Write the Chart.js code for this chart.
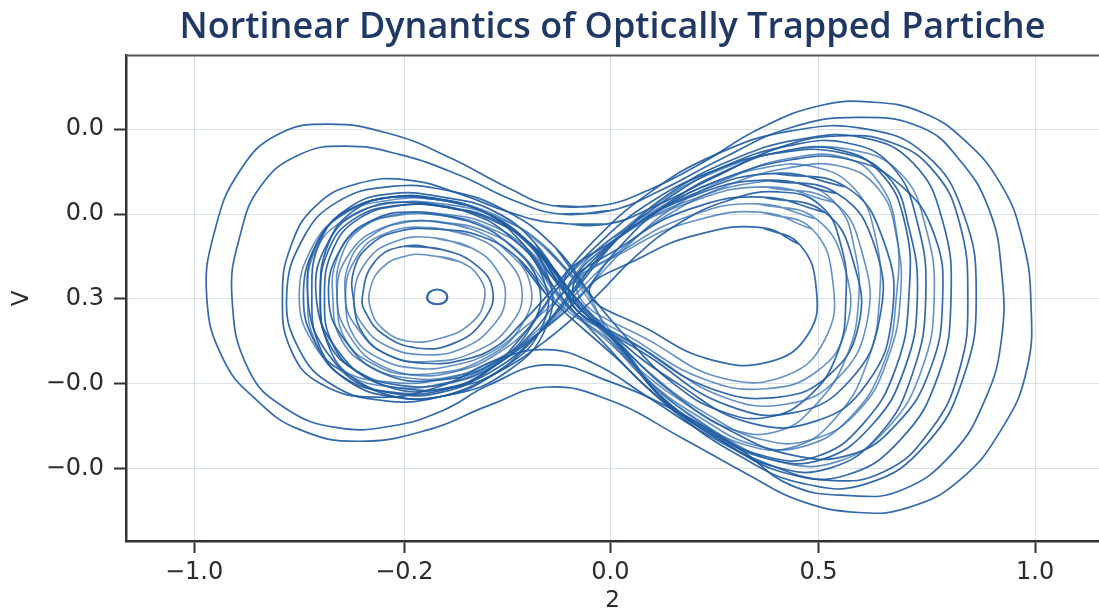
<!DOCTYPE html>
<html>
<head>
<meta charset="utf-8">
<title>Nonlinear dynamics of an optically trapped particle</title>
<script src="https://cdn.jsdelivr.net/npm/chart.js@4.4.1/dist/chart.umd.min.js"></script>
<style>
  html, body { margin: 0; padding: 0; background: #fff; }
  #wrap { width: 1099px; height: 613px; }
</style>
</head>
<body>
<div id="wrap"><canvas id="phase" width="1099" height="613"></canvas></div>
<script>
/* --- Labels as printed on the figure --- */
const chartTitle = 'Nortinear Dynantics of Optically Trapped Partiche';
const xAxisTitle = '2';
const yAxisTitle = 'V';
const xTickValues = [-1, -0.5, -0.01, 0.485, 1];
const xTickLabels = ['\u22121.0', '\u22120.2', '0.0', '0.5', '1.0'];
const yTickValues = [-1, -0.5, 0, 0.5, 1];
const yTickLabels = ['\u22120.0', '\u22120.0', '0.3', '0.0', '0.0'];

/* --- Trajectory pieces, [x, v] pairs --- */
// outer "peanut" orbits around both wells
const outerLoop1 = [[-0.15,0.55],[-0.03,0.55],[0.08,0.64],[0.20,0.79],[0.35,1.01],[0.49,1.14],[0.61,1.16],[0.73,1.10],[0.83,0.94],[0.92,0.67],[0.97,0.35],[0.99,-0.01],[0.98,-0.42],[0.92,-0.77],[0.82,-1.07],[0.70,-1.23],[0.58,-1.26],[0.44,-1.19],[0.32,-1.04],[0.16,-0.82],[-0.01,-0.60],[-0.16,-0.52],[-0.30,-0.63],[-0.44,-0.77],[-0.61,-0.84],[-0.75,-0.77],[-0.85,-0.60],[-0.93,-0.36],[-0.97,0.01],[-0.95,0.41],[-0.89,0.76],[-0.80,0.97],[-0.68,1.03],[-0.53,0.97],[-0.39,0.83],[-0.25,0.65],[-0.15,0.55]];
const outerLoop2 = [[-0.13,0.50],[-0.01,0.52],[0.11,0.64],[0.25,0.82],[0.42,1.01],[0.58,1.07],[0.73,1.01],[0.82,0.82],[0.89,0.53],[0.92,0.17],[0.92,-0.24],[0.88,-0.60],[0.80,-0.92],[0.68,-1.13],[0.56,-1.16],[0.42,-1.10],[0.30,-0.89],[0.16,-0.68],[-0.01,-0.49],[-0.16,-0.39],[-0.30,-0.51],[-0.41,-0.66],[-0.53,-0.75],[-0.66,-0.76],[-0.78,-0.65],[-0.87,-0.42],[-0.91,0.01],[-0.89,0.38],[-0.84,0.67],[-0.75,0.85],[-0.64,0.90],[-0.51,0.85],[-0.37,0.73],[-0.24,0.58],[-0.13,0.50]];
const outerLoop3 = [[-0.15,0.45],[-0.02,0.44],[0.10,0.55],[0.24,0.72],[0.39,0.89],[0.53,0.96],[0.66,0.92],[0.76,0.75],[0.82,0.45],[0.84,0.01],[0.82,-0.42],[0.75,-0.78],[0.64,-1.02],[0.51,-1.07],[0.37,-0.98],[0.22,-0.80],[0.08,-0.58],[-0.05,-0.38],[-0.16,-0.30],[-0.28,-0.36],[-0.42,-0.52],[-0.57,-0.58],[-0.70,-0.50],[-0.77,-0.30],[-0.79,0.01],[-0.77,0.31],[-0.71,0.55],[-0.61,0.68],[-0.49,0.70],[-0.37,0.62],[-0.25,0.51],[-0.15,0.45]];

// figure-eight orbits through the saddle
const eightLoop1 = [[-0.12,0.04],[-0.20,0.32],[-0.30,0.50],[-0.41,0.58],[-0.53,0.60],[-0.64,0.51],[-0.71,0.32],[-0.74,0.01],[-0.71,-0.27],[-0.64,-0.47],[-0.53,-0.55],[-0.41,-0.54],[-0.30,-0.42],[-0.20,-0.21],[-0.12,0.04],[-0.01,0.32],[0.11,0.53],[0.25,0.70],[0.42,0.82],[0.56,0.82],[0.68,0.67],[0.76,0.38],[0.78,-0.01],[0.75,-0.42],[0.67,-0.74],[0.56,-0.92],[0.42,-0.92],[0.27,-0.77],[0.13,-0.54],[0.00,-0.24],[-0.12,0.04]];
const eightLoop2 = [[-0.09,-0.01],[-0.18,0.28],[-0.28,0.45],[-0.40,0.54],[-0.52,0.55],[-0.62,0.47],[-0.68,0.29],[-0.70,0.00],[-0.68,-0.26],[-0.61,-0.43],[-0.51,-0.51],[-0.40,-0.50],[-0.29,-0.40],[-0.19,-0.22],[-0.09,-0.01],[0.01,0.30],[0.12,0.55],[0.26,0.75],[0.40,0.87],[0.53,0.88],[0.63,0.75],[0.69,0.45],[0.70,0.02],[0.67,-0.40],[0.59,-0.74],[0.48,-0.93],[0.36,-0.93],[0.23,-0.78],[0.10,-0.55],[0.01,-0.27],[-0.09,-0.01]];
const eightLoop3 = [[-0.13,0.08],[-0.21,0.30],[-0.30,0.44],[-0.41,0.50],[-0.51,0.50],[-0.60,0.42],[-0.65,0.25],[-0.66,0.01],[-0.64,-0.24],[-0.57,-0.39],[-0.48,-0.45],[-0.38,-0.43],[-0.29,-0.34],[-0.20,-0.16],[-0.13,0.08],[-0.03,0.31],[0.08,0.50],[0.21,0.66],[0.35,0.77],[0.47,0.78],[0.57,0.65],[0.62,0.37],[0.63,0.00],[0.60,-0.38],[0.53,-0.69],[0.43,-0.87],[0.31,-0.86],[0.19,-0.70],[0.07,-0.47],[-0.02,-0.22],[-0.13,0.08]];
const eightLoop4 = [[-0.11,0.02],[-0.19,0.33],[-0.29,0.52],[-0.41,0.60],[-0.53,0.62],[-0.63,0.54],[-0.70,0.34],[-0.72,0.02],[-0.70,-0.29],[-0.63,-0.49],[-0.52,-0.58],[-0.40,-0.57],[-0.29,-0.45],[-0.19,-0.23],[-0.11,0.02],[0.00,0.34],[0.12,0.58],[0.26,0.78],[0.41,0.90],[0.55,0.92],[0.66,0.78],[0.72,0.45],[0.74,0.01],[0.71,-0.43],[0.63,-0.80],[0.51,-1.00],[0.38,-0.99],[0.25,-0.83],[0.11,-0.58],[0.01,-0.28],[-0.11,0.02]];
const eightLoop5 = [[-0.14,-0.01],[-0.22,0.26],[-0.31,0.40],[-0.41,0.45],[-0.50,0.45],[-0.58,0.37],[-0.63,0.22],[-0.64,-0.01],[-0.62,-0.22],[-0.56,-0.35],[-0.47,-0.41],[-0.38,-0.39],[-0.29,-0.31],[-0.21,-0.16],[-0.14,-0.01],[-0.05,0.27],[0.06,0.45],[0.19,0.59],[0.32,0.68],[0.44,0.68],[0.53,0.55],[0.57,0.30],[0.58,-0.02],[0.55,-0.35],[0.48,-0.62],[0.39,-0.78],[0.28,-0.77],[0.17,-0.62],[0.06,-0.42],[-0.04,-0.20],[-0.14,-0.01]];
const eightLoop6 = [[-0.07,0.05],[-0.17,0.31],[-0.28,0.49],[-0.41,0.58],[-0.54,0.58],[-0.65,0.49],[-0.72,0.30],[-0.75,0.01],[-0.72,-0.25],[-0.65,-0.42],[-0.54,-0.49],[-0.42,-0.48],[-0.30,-0.38],[-0.17,-0.18],[-0.07,0.05],[0.03,0.31],[0.14,0.54],[0.28,0.72],[0.42,0.83],[0.55,0.83],[0.63,0.68],[0.67,0.40],[0.67,0.01],[0.64,-0.38],[0.56,-0.70],[0.45,-0.87],[0.33,-0.86],[0.21,-0.71],[0.08,-0.48],[-0.01,-0.22],[-0.07,0.05]];
const eightLoop7 = [[-0.10,0.03],[-0.19,0.30],[-0.29,0.47],[-0.40,0.54],[-0.51,0.55],[-0.61,0.47],[-0.67,0.29],[-0.69,0.01],[-0.67,-0.27],[-0.60,-0.45],[-0.50,-0.53],[-0.39,-0.52],[-0.28,-0.41],[-0.18,-0.20],[-0.10,0.03],[0.01,0.36],[0.13,0.62],[0.28,0.82],[0.44,0.94],[0.59,0.95],[0.71,0.80],[0.78,0.46],[0.80,0.00],[0.77,-0.45],[0.68,-0.83],[0.55,-1.04],[0.41,-1.03],[0.27,-0.86],[0.12,-0.60],[0.02,-0.29],[-0.10,0.03]];
const eightLoop8 = [[-0.16,0.02],[-0.23,0.24],[-0.32,0.37],[-0.42,0.41],[-0.51,0.40],[-0.58,0.32],[-0.62,0.17],[-0.62,-0.02],[-0.60,-0.20],[-0.54,-0.33],[-0.45,-0.38],[-0.36,-0.36],[-0.28,-0.28],[-0.22,-0.14],[-0.16,0.02],[-0.05,0.34],[0.08,0.62],[0.24,0.85],[0.42,0.99],[0.60,1.00],[0.74,0.85],[0.83,0.50],[0.86,0.02],[0.83,-0.46],[0.74,-0.86],[0.60,-1.09],[0.45,-1.09],[0.30,-0.93],[0.14,-0.66],[0.00,-0.34],[-0.16,0.02]];
const eightLoop9 = [[-0.05,0.00],[-0.14,0.30],[-0.26,0.52],[-0.40,0.64],[-0.54,0.66],[-0.66,0.57],[-0.74,0.36],[-0.78,0.02],[-0.75,-0.30],[-0.67,-0.51],[-0.55,-0.60],[-0.42,-0.58],[-0.29,-0.45],[-0.16,-0.24],[-0.05,0.00],[0.05,0.25],[0.15,0.44],[0.27,0.58],[0.39,0.63],[0.49,0.55],[0.54,0.30],[0.55,0.00],[0.53,-0.32],[0.46,-0.58],[0.36,-0.70],[0.25,-0.66],[0.14,-0.50],[0.04,-0.26],[-0.05,0.00]];
const eightLoop10 = [[-0.12,-0.03],[-0.20,0.26],[-0.30,0.42],[-0.41,0.49],[-0.52,0.49],[-0.61,0.41],[-0.66,0.24],[-0.67,0.00],[-0.65,-0.24],[-0.58,-0.40],[-0.48,-0.47],[-0.37,-0.45],[-0.27,-0.36],[-0.19,-0.20],[-0.12,-0.03],[-0.02,0.30],[0.10,0.56],[0.25,0.76],[0.41,0.87],[0.56,0.88],[0.68,0.74],[0.74,0.42],[0.76,0.00],[0.73,-0.42],[0.65,-0.76],[0.53,-0.96],[0.39,-0.96],[0.25,-0.80],[0.11,-0.55],[0.00,-0.27],[-0.12,-0.03]];
const eightLoop11 = [[-0.08,0.06],[-0.17,0.32],[-0.28,0.48],[-0.41,0.56],[-0.54,0.56],[-0.64,0.47],[-0.71,0.29],[-0.73,0.03],[-0.71,-0.26],[-0.64,-0.44],[-0.53,-0.52],[-0.41,-0.50],[-0.29,-0.39],[-0.17,-0.18],[-0.08,0.06],[0.02,0.30],[0.13,0.50],[0.27,0.67],[0.41,0.77],[0.54,0.78],[0.63,0.64],[0.67,0.37],[0.68,0.02],[0.65,-0.35],[0.58,-0.66],[0.47,-0.83],[0.35,-0.83],[0.22,-0.68],[0.09,-0.45],[-0.01,-0.19],[-0.08,0.06]];
const eightLoop12 = [[-0.14,0.05],[-0.22,0.33],[-0.31,0.51],[-0.42,0.59],[-0.53,0.60],[-0.62,0.52],[-0.68,0.33],[-0.70,0.02],[-0.68,-0.28],[-0.62,-0.47],[-0.52,-0.56],[-0.41,-0.55],[-0.31,-0.44],[-0.22,-0.22],[-0.14,0.05],[-0.04,0.32],[0.08,0.56],[0.23,0.75],[0.39,0.86],[0.54,0.86],[0.65,0.72],[0.70,0.42],[0.72,0.01],[0.69,-0.41],[0.61,-0.75],[0.49,-0.95],[0.36,-0.94],[0.23,-0.79],[0.09,-0.55],[-0.03,-0.25],[-0.14,0.05]];

// rings trapped in the left well
const leftRing1 = [[-0.50,0.31],[-0.41,0.29],[-0.33,0.20],[-0.29,0.05],[-0.31,-0.12],[-0.38,-0.26],[-0.47,-0.29],[-0.55,-0.21],[-0.59,-0.09],[-0.60,0.01],[-0.57,0.22],[-0.50,0.31]];
const leftRing2 = [[-0.44,0.42],[-0.34,0.37],[-0.26,0.24],[-0.22,0.04],[-0.25,-0.16],[-0.33,-0.31],[-0.44,-0.37],[-0.54,-0.33],[-0.61,-0.18],[-0.64,0.01],[-0.61,0.26],[-0.54,0.39],[-0.44,0.42]];
const leftRing3 = [[-0.46,0.51],[-0.35,0.46],[-0.25,0.32],[-0.18,0.08],[-0.20,-0.17],[-0.29,-0.38],[-0.42,-0.48],[-0.55,-0.44],[-0.64,-0.25],[-0.68,0.00],[-0.65,0.30],[-0.57,0.47],[-0.46,0.51]];
const leftRing4 = [[-0.48,0.57],[-0.36,0.52],[-0.25,0.37],[-0.17,0.12],[-0.17,-0.15],[-0.26,-0.40],[-0.40,-0.53],[-0.55,-0.51],[-0.66,-0.30],[-0.71,0.02],[-0.68,0.34],[-0.60,0.52],[-0.48,0.57]];
const leftRing5 = [[-0.43,0.36],[-0.34,0.30],[-0.28,0.17],[-0.26,0.00],[-0.29,-0.16],[-0.36,-0.29],[-0.45,-0.33],[-0.54,-0.28],[-0.60,-0.15],[-0.62,0.00],[-0.59,0.22],[-0.52,0.34],[-0.43,0.36]];
const leftRing6 = [[-0.44,0.46],[-0.34,0.41],[-0.26,0.29],[-0.20,0.08],[-0.22,-0.15],[-0.30,-0.34],[-0.43,-0.44],[-0.55,-0.40],[-0.63,-0.22],[-0.66,0.02],[-0.63,0.27],[-0.55,0.42],[-0.44,0.46]];
const leftRing7 = [[-0.47,0.60],[-0.35,0.55],[-0.24,0.40],[-0.16,0.14],[-0.16,-0.15],[-0.25,-0.42],[-0.40,-0.57],[-0.56,-0.55],[-0.68,-0.33],[-0.73,0.02],[-0.70,0.36],[-0.61,0.55],[-0.47,0.60]];
const leftRing8 = [[-0.45,0.26],[-0.37,0.22],[-0.32,0.12],[-0.31,-0.01],[-0.34,-0.14],[-0.41,-0.23],[-0.49,-0.25],[-0.55,-0.18],[-0.58,-0.06],[-0.58,0.07],[-0.55,0.19],[-0.50,0.25],[-0.45,0.26]];

// rings trapped in the right well
const rightRing1 = [[0.35,0.42],[0.44,0.32],[0.48,0.05],[0.46,-0.21],[0.37,-0.37],[0.23,-0.36],[0.08,-0.18],[-0.06,0.04],[0.06,0.24],[0.20,0.38],[0.35,0.42]];
const rightRing2 = [[0.35,0.51],[0.47,0.41],[0.52,0.08],[0.50,-0.24],[0.41,-0.45],[0.26,-0.47],[0.10,-0.27],[-0.09,0.05],[0.04,0.30],[0.19,0.46],[0.35,0.51]];
const rightRing3 = [[0.35,0.60],[0.50,0.51],[0.57,0.20],[0.58,-0.16],[0.51,-0.45],[0.39,-0.58],[0.23,-0.53],[0.07,-0.30],[-0.11,0.03],[0.03,0.33],[0.18,0.53],[0.35,0.60]];
const rightRing4 = [[0.36,0.70],[0.53,0.62],[0.62,0.30],[0.63,-0.12],[0.56,-0.48],[0.43,-0.67],[0.27,-0.63],[0.10,-0.37],[-0.12,0.06],[0.02,0.38],[0.18,0.60],[0.36,0.70]];
const rightRing5 = [[0.34,0.56],[0.48,0.47],[0.55,0.16],[0.55,-0.18],[0.48,-0.43],[0.36,-0.53],[0.22,-0.48],[0.06,-0.26],[-0.10,0.04],[0.03,0.30],[0.18,0.49],[0.34,0.56]];
const rightRing6 = [[0.36,0.66],[0.52,0.57],[0.59,0.26],[0.60,-0.14],[0.53,-0.47],[0.41,-0.62],[0.26,-0.58],[0.09,-0.33],[-0.13,0.04],[0.01,0.36],[0.18,0.57],[0.36,0.66]];
const rightRing7 = [[0.38,0.74],[0.55,0.66],[0.64,0.34],[0.66,-0.10],[0.60,-0.50],[0.48,-0.72],[0.32,-0.73],[0.15,-0.50],[0.00,-0.22],[-0.10,0.05],[0.02,0.38],[0.19,0.62],[0.38,0.74]];

// tiny orbit at the bottom of the left well
const tinyOrbit = [[-0.446,0.01],[-0.440,0.04],[-0.422,0.055],[-0.404,0.04],[-0.398,0.01],[-0.404,-0.02],[-0.422,-0.032],[-0.440,-0.02],[-0.446,0.01]];

const strongOrbits = [
  outerLoop1, outerLoop2, outerLoop3,
  eightLoop1, eightLoop2, eightLoop4, eightLoop7, eightLoop8, eightLoop9, eightLoop12,
  leftRing1, leftRing3, leftRing4, leftRing7,
  rightRing1, rightRing3, rightRing4, rightRing7
];
const faintOrbits = [
  eightLoop3, eightLoop5, eightLoop6, eightLoop10, eightLoop11,
  leftRing2, leftRing5, leftRing6, leftRing8,
  rightRing2, rightRing5, rightRing6
];

/* --- Styling --- */
const strongColor = 'rgba(30, 90, 158, 0.9)';
const faintColor = 'rgba(40, 102, 170, 0.72)';
const tickFont = { family: "'DejaVu Sans', sans-serif", size: 24 };

// [x, v] pairs -> chart points; the loop is closed by running on to its second point
const toXY = pts => pts.concat([pts[1]]).map(p => ({ x: p[0], y: p[1] }));

function orbitSet(pts, color, width) {
  return {
    data: toXY(pts),
    showLine: true,
    borderColor: color,
    borderWidth: width,
    pointRadius: 0,
    tension: 0.45,
    fill: false
  };
}

const datasets = []
  .concat(faintOrbits.map(p => orbitSet(p, faintColor, 1.6)))
  .concat(strongOrbits.map(p => orbitSet(p, strongColor, 1.7)));
datasets.push(orbitSet(tinyOrbit, strongColor, 2.2));

// frame line along the top of the plot area
const topFrame = {
  id: 'topFrame',
  afterDraw(chart) {
    const { ctx, chartArea: a } = chart;
    ctx.save();
    ctx.strokeStyle = '#555';
    ctx.lineWidth = 2;
    ctx.beginPath();
    ctx.moveTo(a.left, a.top);
    ctx.lineTo(a.right, a.top);
    ctx.stroke();
    ctx.restore();
  }
};

new Chart(document.getElementById('phase'), {
  type: 'scatter',
  data: { datasets: datasets },
  plugins: [topFrame],
  options: {
    responsive: false,
    animation: false,
    devicePixelRatio: 1,
    layout: { padding: 0 },
    plugins: {
      legend: { display: false },
      tooltip: { enabled: false },
      title: {
        display: true,
        text: chartTitle,
        fullSize: false,
        color: '#1f3864',
        font: { family: "'Open Sans', sans-serif", size: 36, weight: '600', lineHeight: 1.1 },
        padding: { top: 8, bottom: 8 }
      }
    },
    scales: {
      x: {
        type: 'linear',
        min: -1.162,
        max: 1.152,
        afterBuildTicks: s => { s.ticks = xTickValues.map(v => ({ value: v })); },
        afterFit: s => { s.height = 72; },
        ticks: {
          callback: (v, i) => xTickLabels[i],
          color: '#2b2b2b',
          font: tickFont,
          padding: 5,
          maxRotation: 0,
          autoSkip: false
        },
        grid: { color: '#d8e0ea', lineWidth: 1, tickColor: '#333', tickLength: 12, tickWidth: 2 },
        border: { color: '#333', width: 2.5 },
        title: {
          display: true,
          text: xAxisTitle,
          color: '#2b2b2b',
          font: { family: "'DejaVu Sans', sans-serif", size: 23, lineHeight: 1 },
          padding: { top: 0, bottom: 0 }
        }
      },
      y: {
        type: 'linear',
        min: -1.428,
        max: 1.434,
        afterBuildTicks: s => { s.ticks = yTickValues.map(v => ({ value: v })); },
        afterFit: s => { s.width = 126; },
        ticks: {
          callback: (v, i) => yTickLabels[i],
          color: '#2b2b2b',
          font: tickFont,
          padding: 10,
          autoSkip: false
        },
        grid: { color: '#d8e0ea', lineWidth: 1, tickColor: '#333', tickLength: 12, tickWidth: 2 },
        border: { color: '#333', width: 2.5 },
        title: {
          display: true,
          text: yAxisTitle,
          color: '#2b2b2b',
          font: { family: "'DejaVu Sans', sans-serif", size: 23 },
          padding: { top: 8, bottom: 0 }
        }
      }
    }
  }
});
</script>
</body>
</html>
